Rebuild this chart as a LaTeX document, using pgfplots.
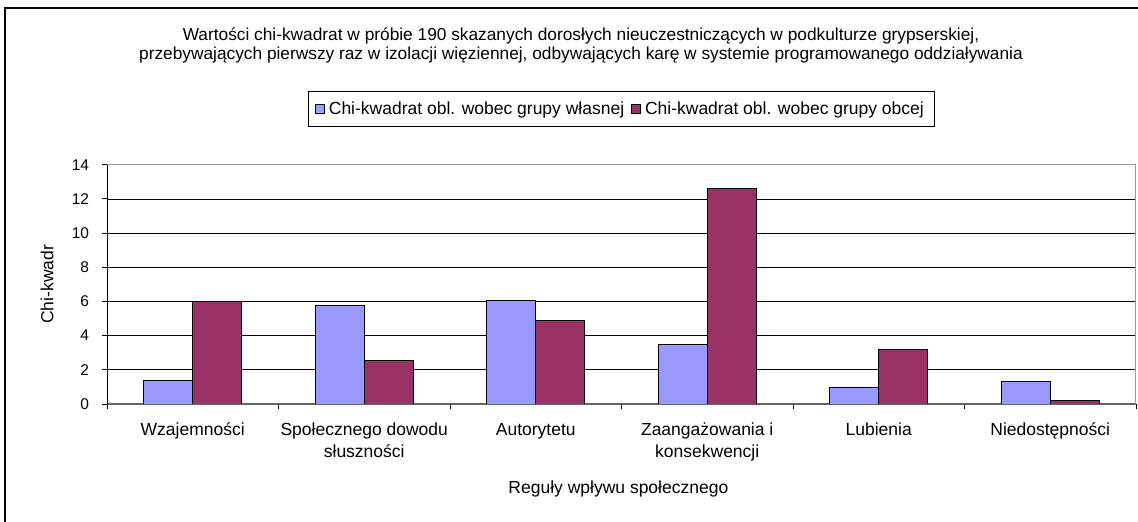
\documentclass[border=0pt]{standalone}
\usepackage{fontspec}
\setmainfont{Liberation Sans}
\usepackage{pgfplots}
\pgfplotsset{compat=1.18}
\definecolor{cblue}{HTML}{9999FF}
\definecolor{cred}{HTML}{993366}
\begin{document}
\fontsize{17.3bp}{22bp}\selectfont
\begin{tikzpicture}
\useasboundingbox (0,0) rectangle (1138bp,522bp);
\clip (0,0) rectangle (1138bp,522bp);
\fill[white] (0,0) rectangle (1138bp,522bp);
\draw[black, line width=1.3bp] (5bp,-20bp) rectangle (1160bp,514bp);
\node[anchor=base] at (581bp,481.5bp) {Wartości chi-kwadrat w próbie 190 skazanych dorosłych nieuczestniczących w podkulturze grypserskiej,};
\node[anchor=base] at (581bp,462.5bp) {przebywających pierwszy raz w izolacji więziennej, odbywających karę w systemie programowanego oddziaływania};
\begin{axis}[
  at={(107bp,118bp)}, anchor=south west,
  scale only axis, width=1029bp, height=239.3bp,
  xmin=-0.5, xmax=5.5, ymin=0, ymax=14,
  ytick={0,2,...,14},
  xtick={0,...,5},
  xticklabels={Wzajemności, {Społecznego dowodu\\słuszności}, Autorytetu, {Zaangażowania i\\konsekwencji}, Lubienia, Niedostępności},
  xticklabel style={align=center, yshift=-8bp, font=\fontsize{17.5bp}{22bp}\selectfont},
  yticklabel style={xshift=-7bp, font=\fontsize{15.5bp}{18bp}\selectfont},
  /pgf/number format/assume math mode=true,
  minor xtick={-0.5,0.5,...,5.5},
  every major x tick/.append style={draw=none},
  every minor x tick/.append style={draw=black, line width=0.8bp},
  every major y tick/.append style={draw=black, line width=0.8bp},
  tick align=outside, major tick length=5bp, minor tick length=5bp,
  axis x line*=bottom, axis y line*=left,
  x axis line style={draw=black!60, line width=1.5bp, -},
  y axis line style={draw=black, line width=0.8bp, -},
  ymajorgrids, grid style={black, line width=0.7bp},
  ybar=0pt, bar width=0.286,
  ylabel={Chi-kwadr},
  ylabel style={at={(-0.0583,0.5)}, anchor=center, font=\fontsize{17.5bp}{20bp}\selectfont},
  xlabel={Reguły wpływu społecznego},
  xlabel style={at={(0.497,-0.372)}, anchor=base, font=\fontsize{17.5bp}{20bp}\selectfont},
  legend style={at={(0.5,1.2328)}, anchor=center, draw=black, line width=0.8bp,
    font=\fontsize{17.5bp}{20bp}\selectfont, inner xsep=7bp, inner ysep=7.5bp,
    nodes={inner xsep=4bp},
    /tikz/every even column/.append style={column sep=3bp}},
  legend columns=2,
  legend image code/.code={\draw[#1, draw=black, line width=0.8bp] (0bp,-4.5bp) rectangle (9bp,4.5bp);},
]
\addplot[fill=cblue, draw=black, line width=1bp] coordinates {(0,1.40) (1,5.75) (2,6.04) (3,3.51) (4,0.95) (5,1.30)};
\addplot[fill=cred, draw=black, line width=1bp] coordinates {(0,6.02) (1,2.53) (2,4.87) (3,12.62) (4,3.20) (5,0.23)};
\legend{Chi-kwadrat obl. wobec grupy własnej, Chi-kwadrat obl. wobec grupy obcej}
\draw[black!40, line width=1.5bp] (rel axis cs:0,1) -- (rel axis cs:1,1) -- (rel axis cs:1,0);
\end{axis}
\end{tikzpicture}
\end{document}
